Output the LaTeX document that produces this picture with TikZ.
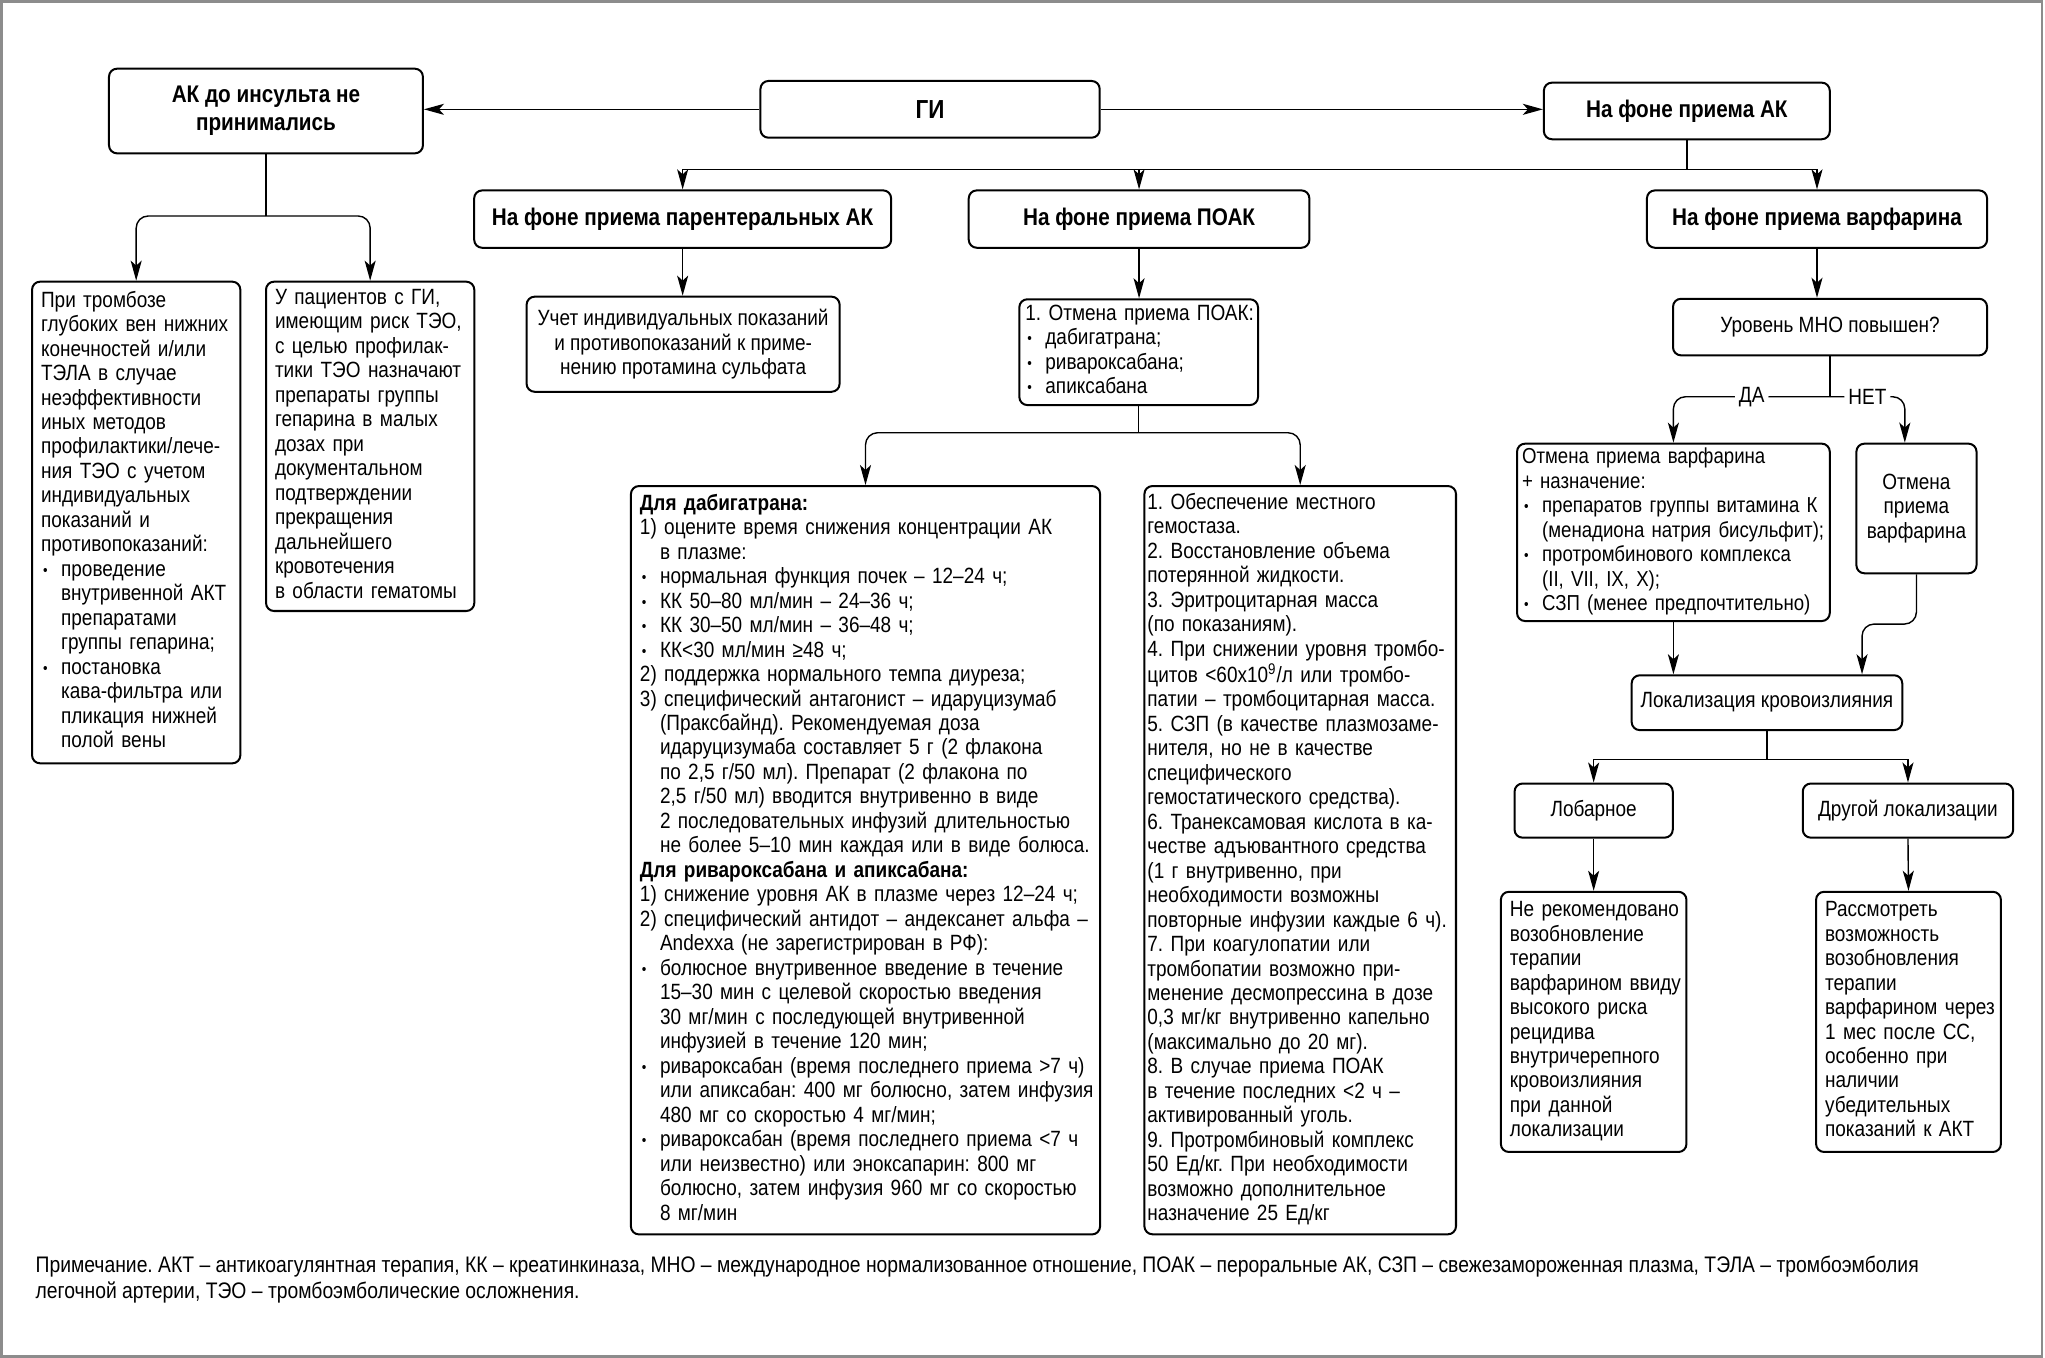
\documentclass[tikz,border=0pt]{standalone}
\usepackage{fontspec}
\setmainfont{Liberation Sans}[FakeStretch=0.86]
\usetikzlibrary{arrows.meta}
\frenchspacing
\newcommand\px{0.65pt}
\newcommand\bl{\makebox[10pt][l]{\hspace{1pt}\raisebox{0.5pt}{\fontsize{7.5}{7}\selectfont•}}}
\newcommand\ind{\hspace*{10pt}}
\newcommand\lns[1]{\begin{tabular}{@{}l@{}}#1\end{tabular}}
\tikzset{
  box/.style={draw, line width=1pt, rounded corners=4pt, anchor=north west,
    inner xsep=4.5pt, inner ysep=0pt, align=center, font=\fontsize{11}{12.2}\selectfont},
  sz/.style 2 args={minimum width=#1*\px, minimum height=#2*\px},
  tbox/.style 2 args={box, sz={#1}{#2}, align=left, text width=#1*\px-9pt},
  ttl/.style={box, font=\fontsize{12}{14}\bfseries},
  line/.style={line width=0.7pt},
  arr/.style={line, -{Stealth[length=10pt, width=5.5pt, inset=2.5pt]}},
  lbl/.style={fill=white, inner xsep=2pt, inner ysep=1pt, font=\fontsize{11}{12}\selectfont},
}
\begin{document}
\begin{tikzpicture}[x=\px, y=-\px]
\useasboundingbox (0,0) rectangle (1568,1041);
\draw[black!45, line width=1.4pt] (1,1) rectangle (1565.7,1040);

\node[ttl, sz={260.1}{43.5}, font=\fontsize{13}{15}\bfseries] (gi) at (582.3,61.3) {ГИ};
\node[ttl, sz={240.7}{64.9}] (ak0) at (82.8,51.9) {АК до инсульта не\\принимались};
\node[ttl, sz={219.2}{43.4}] (akon) at (1183,62.6) {На фоне приема АК};
\node[ttl, sz={319.7}{44}] (par) at (362.8,145.2) {На фоне приема парентеральных АК};
\node[ttl, sz={261.2}{44}] (poak) at (742,145.2) {На фоне приема ПОАК};
\node[ttl, sz={260.8}{44}] (warf) at (1262,145.2) {На фоне приема варфарина};

\node[tbox={159.7}{369.3}] (thr) at (23.8,215.2) {\lns{При тромбозе\\глубоких вен нижних\\конечностей и/или\\ТЭЛА в случае\\неэффективности\\иных методов\\профилактики/лече-\\ния ТЭО с учетом\\индивидуальных\\показаний и\\противопоказаний:\\
\bl проведение\\ \ind внутривенной АКТ\\ \ind препаратами\\ \ind группы гепарина;\\
\bl постановка\\ \ind кава-фильтра или\\ \ind пликация нижней\\ \ind полой вены}};
\node[tbox={159.7}{252.5}] (pat) at (203.2,215.2) {\lns{У пациентов с ГИ,\\имеющим риск ТЭО,\\с целью профилак-\\тики ТЭО назначают\\препараты группы\\гепарина в малых\\дозах при\\документальном\\подтверждении\\прекращения\\дальнейшего\\кровотечения\\в области гематомы}};

\node[box, sz={240}{72.9}] (uchet) at (403,226.7) {Учет индивидуальных показаний\\и противопоказаний к приме-\\нению протамина сульфата};
\node[tbox={183}{81.1}, inner xsep=3pt, text width=183*\px-6pt] (otm) at (780.8,228.7) {\lns{1. Отмена приема ПОАК:\\ \bl дабигатрана;\\ \bl ривароксабана;\\ \bl апиксабана}};

\node[tbox={359.7}{573.8}] (dab) at (483,371.9) {\lns{\textbf{Для дабигатрана:}\\
1) оцените время снижения концентрации АК\\
\ind в плазме:\\
\bl нормальная функция почек – 12–24 ч;\\
\bl КК 50–80 мл/мин – 24–36 ч;\\
\bl КК 30–50 мл/мин – 36–48 ч;\\
\bl КК<30 мл/мин ≥48 ч;\\
2) поддержка нормального темпа диуреза;\\
3) специфический антагонист – идаруцизумаб\\
\ind (Праксбайнд). Рекомендуемая доза\\
\ind идаруцизумаба составляет 5 г (2 флакона\\
\ind по 2,5 г/50 мл). Препарат (2 флакона по\\
\ind 2,5 г/50 мл) вводится внутривенно в виде\\
\ind 2 последовательных инфузий длительностью\\
\ind не более 5–10 мин каждая или в виде болюса.\\
\textbf{Для ривароксабана и апиксабана:}\\
1) снижение уровня АК в плазме через 12–24 ч;\\
2) специфический антидот – андексанет альфа –\\
\ind Andexxa (не зарегистрирован в РФ):\\
\bl болюсное внутривенное введение в течение\\
\ind 15–30 мин с целевой скоростью введения\\
\ind 30 мг/мин с последующей внутривенной\\
\ind инфузией в течение 120 мин;\\
\bl ривароксабан (время последнего приема >7 ч)\\
\ind или апиксабан: 400 мг болюсно, затем инфузия\\
\ind 480 мг со скоростью 4 мг/мин;\\
\bl ривароксабан (время последнего приема <7 ч\\
\ind или неизвестно) или эноксапарин: 800 мг\\
\ind болюсно, затем инфузия 960 мг со скоростью\\
\ind 8 мг/мин}};
\node[tbox={238.9}{573.7}, inner xsep=1.5pt, text width=238.9*\px-3pt] (obs) at (876.7,371.9) {\lns{1. Обеспечение местного\\
гемостаза.\\
2. Восстановление объема\\
потерянной жидкости.\\
3. Эритроцитарная масса\\
(по показаниям).\\
4. При снижении уровня тромбо-\\
цитов <60x10\textsuperscript{9}/л или тромбо-\\
патии – тромбоцитарная масса.\\
5. СЗП (в качестве плазмозаме-\\
нителя, но не в качестве\\
специфического\\
гемостатического средства).\\
6. Транексамовая кислота в ка-\\
честве адъювантного средства\\
(1 г внутривенно, при\\
необходимости возможны\\
повторные инфузии каждые 6 ч).\\
7. При коагулопатии или\\
тромбопатии возможно при-\\
менение десмопрессина в дозе\\
0,3 мг/кг внутривенно капельно\\
(максимально до 20 мг).\\
8. В случае приема ПОАК\\
в течение последних <2 ч –\\
активированный уголь.\\
9. Протромбиновый комплекс\\
50 Ед/кг. При необходимости\\
возможно дополнительное\\
назначение 25 Ед/кг}};

\node[box, sz={240.8}{43.4}] (mno) at (1282,228.3) {Уровень МНО повышен?};
\node[tbox={239.8}{136}, inner xsep=2.5pt, text width=239.8*\px-5pt, font=\fontsize{10.8}{12.2}\selectfont] (vk) at (1162.4,339.4) {\lns{Отмена приема варфарина\\+ назначение:\\ \bl препаратов группы витамина К\\ \ind (менадиона натрия бисульфит);\\ \bl протромбинового комплекса\\ \ind (II, VII, IX, X);\\ \bl СЗП (менее предпочтительно)}};
\node[box, sz={92.1}{99.4}] (otw) at (1422.6,339.4) {Отмена\\приема\\варфарина};
\node[box, sz={204.4}{42}] (lok) at (1250.3,517) {Локализация кровоизлияния};
\node[box, sz={121.3}{41.5}] (lob) at (1160.5,600) {Лобарное};
\node[box, sz={161.3}{41.5}] (dr) at (1381.5,600) {Другой локализации};
\node[tbox={142.3}{199.5}] (nr) at (1150,683) {\lns{Не рекомендовано\\возобновление\\терапии\\варфарином ввиду\\высокого риска\\рецидива\\внутричерепного\\кровоизлияния\\при данной\\локализации}};
\node[tbox={141.7}{199.5}] (rs) at (1391.7,683) {\lns{Рассмотреть\\возможность\\возобновления\\терапии\\варфарином через\\1 мес после СС,\\особенно при\\наличии\\убедительных\\показаний к АКТ}};

\node[anchor=north west, inner sep=0pt, font=\fontsize{11.2}{13}\selectfont] (note) at (27,961) {\lns{Примечание. АКТ – антикоагулянтная терапия, КК – креатинкиназа, МНО – международное нормализованное отношение, ПОАК – пероральные АК, СЗП – свежезамороженная плазма, ТЭЛА – тромбоэмболия\\легочной артерии, ТЭО – тромбоэмболические осложнения.}};

\coordinate (y1) at (0,129.8);
\coordinate (y2) at (0,165.6);
\coordinate (y3) at (0,331.8);
\coordinate (y4) at (0,304.2);
\coordinate (y5) at (0,478.5);
\coordinate (y6) at (0,582.2);
\coordinate (n1) at (1460.5,0);
\coordinate (n2) at (1427.7,0);

\draw[arr] (gi.west) -- (gi.west -| ak0.east);
\draw[arr] (gi.east) -- (gi.east -| akon.west);
\draw[line] (akon.south) -- (akon.south |- y1);
\draw[line] (par.north |- y1) -- (warf.north |- y1);
\foreach \n in {par,poak,warf} \draw[arr] (\n.north |- y1) -- (\n.north);

\draw[line] (ak0.south) -- (ak0.south |- y2);
\draw[arr, rounded corners=6pt] (ak0.south |- y2) -| (thr.north);
\draw[arr, rounded corners=6pt] (ak0.south |- y2) -| (pat.north);

\draw[arr] (par.south) -- (par.south |- uchet.north);
\draw[arr] (poak.south) -- (poak.south |- otm.north);
\draw[line] (otm.south) -- (otm.south |- y3);
\draw[arr, rounded corners=6pt] (otm.south |- y3) -| (dab.north);
\draw[arr, rounded corners=6pt] (otm.south |- y3) -| (obs.north);

\draw[arr] (warf.south) -- (warf.south |- mno.north);
\draw[line] (mno.south) -- (mno.south |- y4);
\draw[arr, rounded corners=6pt] (mno.south |- y4) -- node[lbl] {ДА} (vk.north |- y4) -- (vk.north);
\draw[arr, rounded corners=6pt] (mno.south |- y4) -- node[lbl] {НЕТ} (n1 |- y4) -- (n1 |- otw.north);
\draw[arr] (vk.south) -- (vk.south |- lok.north);
\draw[arr, rounded corners=6pt] (otw.south) |- (n2 |- y5) -- (n2 |- lok.north);

\draw[line] (lok.south) -- (lok.south |- y6);
\draw[line] (lob.north |- y6) -- (dr.north |- y6);
\draw[arr] (lob.north |- y6) -- (lob.north);
\draw[arr] (dr.north |- y6) -- (dr.north);
\draw[arr] (lob.south) -- (nr.north);
\draw[arr] (dr.south) -- (rs.north);
\end{tikzpicture}
\end{document}
